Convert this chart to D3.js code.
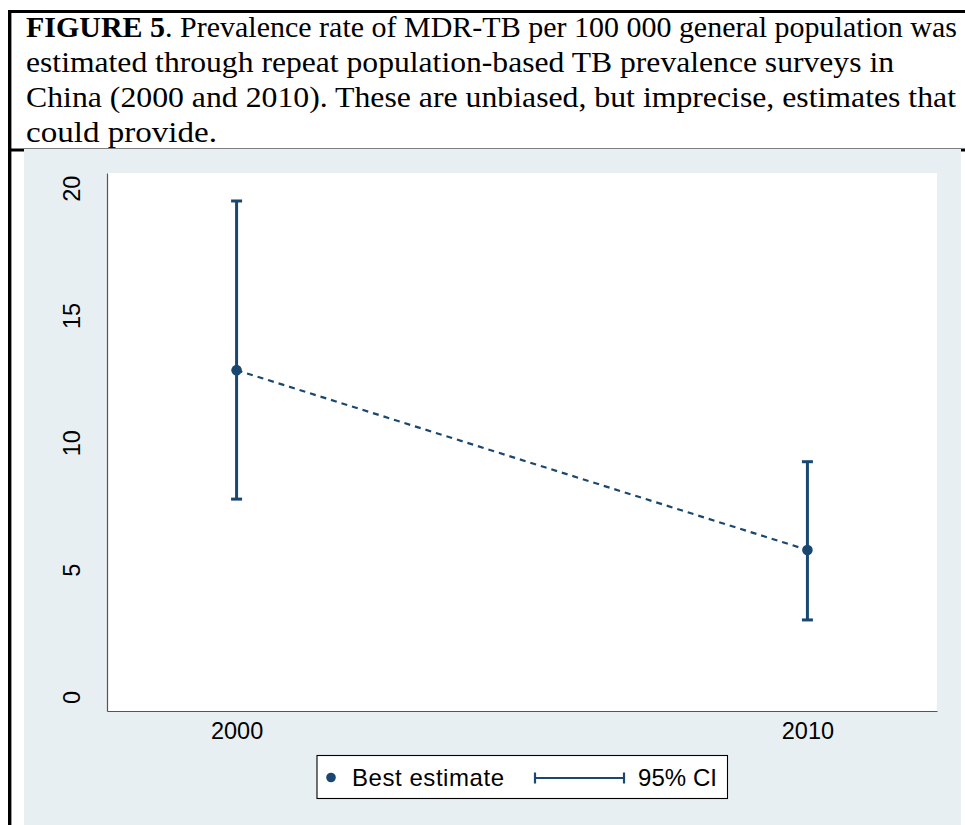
<!DOCTYPE html>
<html><head><meta charset="utf-8">
<script src="https://cdn.jsdelivr.net/npm/d3@7"></script>
<style>html,body{margin:0;padding:0;background:#fff;}</style>
</head><body>
<script>
// ---- data ----
const years = [2000, 2010];
const bestEstimate = [12.85, 5.78];
const ciLower = [7.78, 3.03];
const ciUpper = [19.5, 9.25];
const yTicks = [0, 5, 10, 15, 20];
const titleLines = [
  {bold: "FIGURE 5", rest: ". Prevalence rate of MDR-TB per 100 000 general population was"},
  {bold: "", rest: "estimated through repeat population-based TB prevalence surveys in"},
  {bold: "", rest: "China (2000 and 2010). These are unbiased, but imprecise, estimates that"},
  {bold: "", rest: "could provide."}
];
const legendLabels = ["Best estimate", "95% CI"];

const W = 965, H = 825;
const navy = "#1a476f";
const svg = d3.select("body").append("svg").attr("width", W).attr("height", H);

// frame lines
svg.append("line").attr("x1", 8).attr("x2", 965).attr("y1", 11.5).attr("y2", 11.5).attr("stroke", "#000").attr("stroke-width", 3);
svg.append("line").attr("x1", 9.7).attr("x2", 9.7).attr("y1", 10).attr("y2", 825).attr("stroke", "#000").attr("stroke-width", 3.4);
svg.append("line").attr("x1", 8).attr("x2", 965).attr("y1", 150).attr("y2", 150).attr("stroke", "#000").attr("stroke-width", 3);

// title
const lineW = [931, 868, 930, 191];
titleLines.forEach((l, i) => {
  const t = svg.append("text").attr("x", 26).attr("y", 37 + i * 35)
    .attr("font-family", "'Liberation Serif', 'DejaVu Serif', serif")
    .attr("font-size", 28.5).attr("fill", "#000")
    .attr("textLength", lineW[i]).attr("lengthAdjust", "spacingAndGlyphs");
  if (l.bold) t.append("tspan").attr("font-weight", "bold").text(l.bold);
  t.append("tspan").text(l.rest);
});

// graph background
svg.append("rect").attr("x", 24).attr("y", 149).attr("width", 937).attr("height", 676).attr("fill", "#e8eff2");

const plot = {left: 107, right: 937, top: 173, bottom: 711};
svg.append("rect").attr("x", plot.left).attr("y", plot.top)
  .attr("width", plot.right - plot.left).attr("height", plot.bottom - plot.top).attr("fill", "#fff");

const x = d3.scaleLinear().domain([1997.73, 2012.27]).range([plot.left, plot.right]);
const y = d3.scaleLinear().domain([-0.55, 20.6]).range([plot.bottom, plot.top]);

// axes
const yAxis = svg.append("g").attr("transform", `translate(${plot.left},0)`)
  .call(d3.axisLeft(y).tickValues(yTicks).tickSize(0).tickPadding(0));
yAxis.select(".domain").attr("stroke", "#555").attr("stroke-width", 1.2);
yAxis.selectAll("text").remove();
yAxis.selectAll(".tick").append("text")
  .attr("transform", "translate(-27,0) rotate(-90)")
  .attr("text-anchor", "middle").attr("fill", "#000")
  .attr("font-family", "'Liberation Sans', Arial, sans-serif").attr("font-size", 23.5)
  .text(d => d);

const xAxis = svg.append("g").attr("transform", `translate(0,${plot.bottom})`)
  .call(d3.axisBottom(x).tickValues(years).tickFormat(d3.format("d")).tickSize(0).tickPadding(0));
xAxis.select(".domain").attr("stroke", "#555").attr("stroke-width", 1.2);
xAxis.selectAll("text").attr("dy", null).attr("y", 28)
  .attr("font-family", "'Liberation Sans', Arial, sans-serif").attr("font-size", 23.5).attr("fill", "#000");

// dashed connecting line
const line = d3.line().x((d, i) => x(years[i])).y(d => y(d));
svg.append("path").datum(bestEstimate).attr("d", line)
  .attr("fill", "none").attr("stroke", navy).attr("stroke-width", 2.2).attr("stroke-dasharray", "6,5");

// error bars
const capW = 5.5;
years.forEach((yr, i) => {
  const g = svg.append("g");
  g.append("line").attr("x1", x(yr)).attr("x2", x(yr)).attr("y1", y(ciLower[i])).attr("y2", y(ciUpper[i]))
    .attr("stroke", navy).attr("stroke-width", 3);
  [ciLower[i], ciUpper[i]].forEach(v => {
    g.append("line").attr("x1", x(yr) - capW).attr("x2", x(yr) + capW).attr("y1", y(v)).attr("y2", y(v))
      .attr("stroke", navy).attr("stroke-width", 3);
  });
});

// points
svg.selectAll("circle.pt").data(bestEstimate).enter().append("circle").attr("class", "pt")
  .attr("cx", (d, i) => x(years[i])).attr("cy", d => y(d)).attr("r", 5.3).attr("fill", navy);

// legend
const lg = svg.append("g");
lg.append("rect").attr("x", 317).attr("y", 755.5).attr("width", 410.5).attr("height", 43)
  .attr("fill", "#fff").attr("stroke", "#000").attr("stroke-width", 1.1);
lg.append("circle").attr("cx", 331).attr("cy", 777.5).attr("r", 4.8).attr("fill", navy);
lg.append("text").attr("x", 352).attr("y", 786).attr("font-family", "'Liberation Sans', Arial, sans-serif")
  .attr("font-size", 24).attr("fill", "#000").attr("textLength", 152).attr("lengthAdjust", "spacing").text(legendLabels[0]);
lg.append("line").attr("x1", 535).attr("x2", 624).attr("y1", 778).attr("y2", 778).attr("stroke", navy).attr("stroke-width", 2.2);
[535, 624].forEach(cx => lg.append("line").attr("x1", cx).attr("x2", cx).attr("y1", 772.5).attr("y2", 783.5).attr("stroke", navy).attr("stroke-width", 2.2));
lg.append("text").attr("x", 638).attr("y", 786).attr("font-family", "'Liberation Sans', Arial, sans-serif")
  .attr("font-size", 24).attr("fill", "#000").attr("textLength", 79).attr("lengthAdjust", "spacing").text(legendLabels[1]);
</script>
</body></html>
